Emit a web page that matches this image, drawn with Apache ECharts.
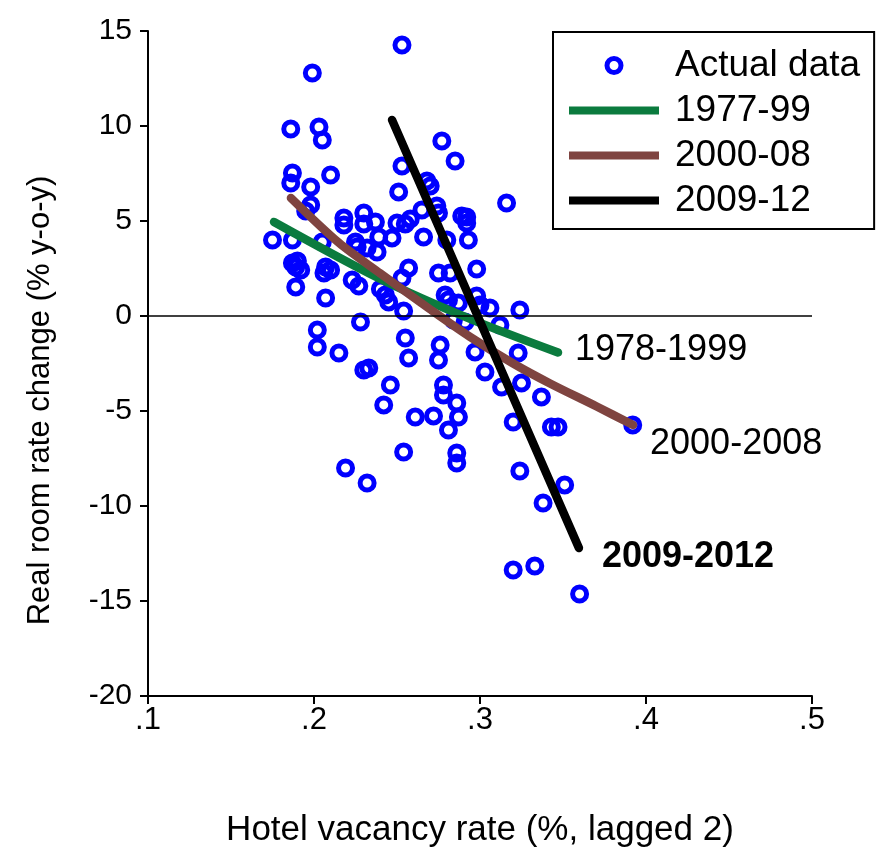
<!DOCTYPE html>
<html><head><meta charset="utf-8">
<script src="https://cdn.jsdelivr.net/npm/echarts@6/dist/echarts.min.js"></script>
<style>html,body{margin:0;padding:0;background:#fff}#c{width:877px;height:859px}</style>
</head><body><div id="c"></div>
<script>
// Actual data: hotel vacancy rate (lagged 2) vs real room rate change (% y-o-y)
const vacancy = [
  0.253,0.199,0.186,0.203,0.205,0.277,0.285,0.253,0.187,0.210,
  0.186,0.198,0.251,0.268,0.270,0.198,0.195,0.316,0.274,0.275,
  0.289,0.292,0.292,0.265,0.230,0.218,0.218,0.237,0.230,0.250,
  0.255,0.258,0.266,0.239,0.247,0.280,0.293,0.175,0.187,0.205,
  0.225,0.226,0.232,0.238,0.187,0.190,0.192,0.189,0.207,0.210,
  0.206,0.223,0.227,0.257,0.253,0.275,0.282,0.298,0.189,0.207,
  0.243,0.245,0.254,0.279,0.281,0.287,0.298,0.300,0.306,0.324,
  0.312,0.284,0.291,0.228,0.202,0.202,0.215,0.255,0.257,0.276,
  0.275,0.297,0.323,0.230,0.233,0.303,0.313,0.325,0.246,0.278,
  0.278,0.286,0.287,0.242,0.261,0.272,0.281,0.320,0.337,0.343,
  0.347,0.392,0.254,0.286,0.286,0.219,0.232,0.324,0.351,0.338,
  0.320,0.333,0.360,0.240
];
const roomRateChange = [
  14.26,12.79,9.84,9.95,9.26,9.21,8.16,7.89,7.53,7.42,
  7.00,6.79,6.53,7.11,6.84,5.84,5.53,5.95,5.79,5.42,
  5.26,5.21,4.89,5.58,5.42,5.16,4.79,4.95,4.84,4.89,
  4.84,5.11,4.16,4.16,4.11,4.00,4.00,4.00,4.00,3.89,
  3.89,3.63,3.58,3.37,2.79,2.89,2.42,2.58,2.58,2.42,
  2.26,1.89,1.58,2.53,2.00,2.26,2.26,2.47,1.53,0.95,
  1.11,0.74,0.26,1.11,0.84,0.68,1.05,0.58,0.42,0.32,
  -0.47,-0.21,-0.32,-0.32,-0.74,-1.63,-1.95,-1.16,-2.21,-1.53,
  -2.32,-1.89,-1.95,-2.84,-2.74,-2.95,-3.74,-3.53,-3.63,-3.63,
  -4.16,-4.58,-5.32,-4.68,-5.32,-5.26,-6.00,-5.58,-4.26,-5.84,
  -5.84,-5.74,-7.16,-7.21,-7.74,-8.00,-8.79,-8.16,-8.89,-9.84,
  -13.37,-13.16,-14.63,1.42
];
// Fitted lines
const fit1977X = [0.1759, 0.2400, 0.2940, 0.3470];
const fit1977Y = [4.95, 1.95, -0.15, -1.92];
const fit2000X = [0.1861, 0.2150, 0.2398, 0.2700, 0.2940, 0.3200, 0.3422, 0.3700, 0.3922];
const fit2000Y = [6.21, 3.85, 2.25, 0.35, -1.10, -2.50, -3.55, -4.75, -5.74];
const fit2009X = [0.2470, 0.3596];
const fit2009Y = [10.32, -12.21];
const seriesNames = ['Actual data', '1977-99', '2000-08', '2009-12'];
const endLabels = ['1978-1999', '2000-2008', '2009-2012'];
const xTickLabels = ['.1', '.2', '.3', '.4', '.5'];
const xTitle = 'Hotel vacancy rate (%, lagged 2)';
const yTitle = 'Real room rate change (% y-o-y)';

const FONT = '"Liberation Sans", Arial, Helvetica, sans-serif';
const zip = (a, b) => a.map((v, i) => [v, b[i]]);
const chart = echarts.init(document.getElementById('c'), null, {renderer: 'canvas'});
const lineBase = (name, xs, ys, color, label, lblOpt, smooth) => ({
  name, type: 'line', data: zip(xs, ys), symbol: 'none', silent: true, smooth: smooth,
  lineStyle: {color, width: 8.5, cap: 'round', join: 'round', opacity: 1},
  itemStyle: {color},
  endLabel: Object.assign({show: true, formatter: () => label, color: '#000',
    fontFamily: FONT, fontSize: 36}, lblOpt)
});
chart.setOption({
  animation: false,
  backgroundColor: '#fff',
  grid: {left: 148, right: 65, top: 31, bottom: 163, containLabel: false, outerBoundsMode: 'none'},
  xAxis: {
    type: 'value', min: 0.1, max: 0.5, interval: 0.1,
    name: xTitle, nameLocation: 'middle', nameGap: 117,
    nameTextStyle: {fontFamily: FONT, fontSize: 35, color: '#000'},
    axisLine: {show: true, onZero: false, lineStyle: {color: '#000', width: 2}},
    axisTick: {show: true, length: 8, lineStyle: {color: '#000', width: 2}},
    axisLabel: {margin: 9, fontFamily: FONT, fontSize: 31, color: '#000',
      formatter: v => xTickLabels[Math.round((v - 0.1) / 0.1)]},
    splitLine: {show: false}
  },
  yAxis: {
    type: 'value', min: -20, max: 15, interval: 5,
    name: yTitle, nameLocation: 'middle', nameGap: 92,
    nameTextStyle: {fontFamily: FONT, fontSize: 31, color: '#000', padding: [0, 74, 0, 0]},
    axisLine: {show: true, onZero: false, lineStyle: {color: '#000', width: 2}},
    axisTick: {show: true, length: 8, lineStyle: {color: '#000', width: 2}},
    axisLabel: {margin: 16, fontFamily: FONT, fontSize: 30, color: '#000'},
    splitLine: {show: false}
  },
  legend: {
    orient: 'vertical', left: 553, top: 32,
    padding: [15, 14, 10, 16],
    itemWidth: 90, itemHeight: 14, itemGap: 8,
    borderColor: '#000', borderWidth: 2, backgroundColor: '#fff',
    selectedMode: false,
    textStyle: {fontFamily: FONT, fontSize: 37, color: '#000', lineHeight: 36, padding: [0, 0, 0, 11]},
    data: [
      {name: seriesNames[0], icon: 'circle', itemStyle: {color: 'rgba(0,0,0,0)', borderColor: '#0000ff', borderWidth: 5, opacity: 1}},
      {name: seriesNames[1], icon: 'path://M0,0H90V8H0Z', itemStyle: {color: '#0b7b3e', borderWidth: 0}},
      {name: seriesNames[2], icon: 'path://M0,0H90V8H0Z', itemStyle: {color: '#7f4440', borderWidth: 0}},
      {name: seriesNames[3], icon: 'path://M0,0H90V8H0Z', itemStyle: {color: '#000000', borderWidth: 0}}
    ]
  },
  series: [
    {
      name: seriesNames[0], type: 'scatter', data: zip(vacancy, roomRateChange),
      symbol: 'circle', symbolSize: 14, silent: true,
      itemStyle: {color: 'rgba(0,0,0,0)', borderColor: '#0000ff', borderWidth: 5, opacity: 1},
      markLine: {silent: true, symbol: ['none', 'none'], label: {show: false},
        lineStyle: {color: '#000', width: 1.5, type: 'solid'}, data: [{yAxis: 0}]}
    },
    lineBase(seriesNames[1], fit1977X, fit1977Y, '#0b7b3e', endLabels[0], {distance: 17, offset: [0, -2]}, 0.3),
    lineBase(seriesNames[2], fit2000X, fit2000Y, '#7f4440', endLabels[1], {distance: 17, offset: [0, 19]}, 0.3),
    lineBase(seriesNames[3], fit2009X, fit2009Y, '#000000', endLabels[2], {distance: 23, offset: [0, 9], fontWeight: 'bold'}, false)
  ]
});
</script></body></html>
